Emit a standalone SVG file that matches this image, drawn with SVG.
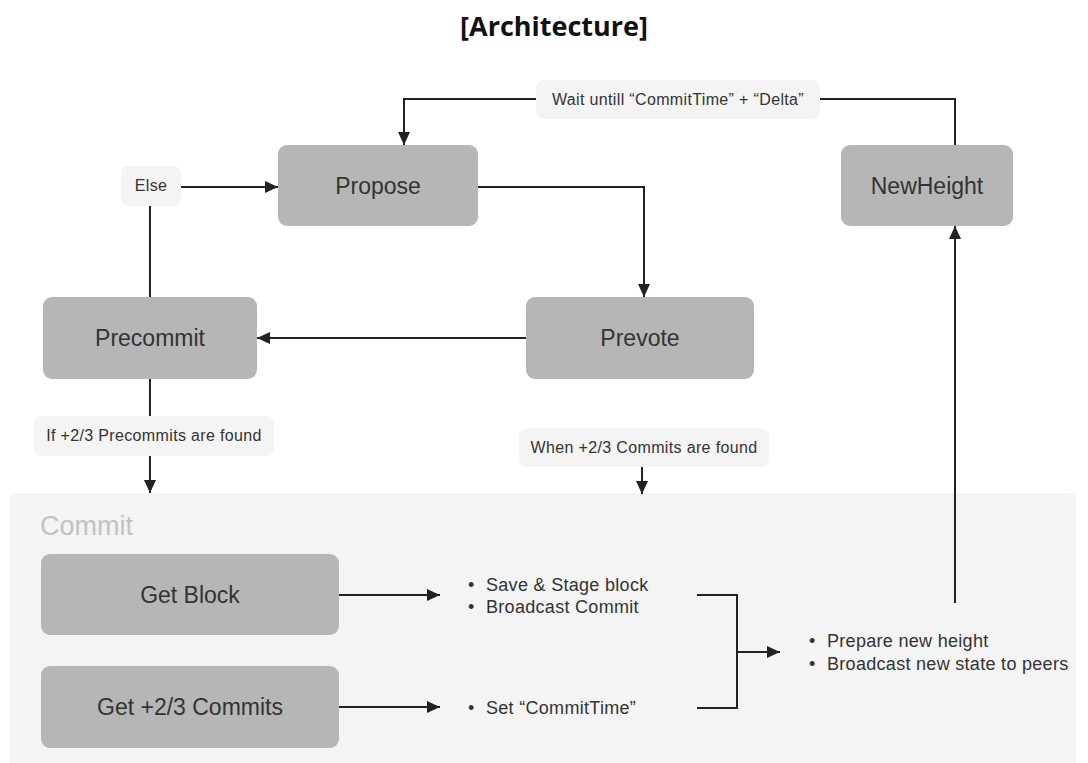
<svg xmlns="http://www.w3.org/2000/svg" width="1088" height="763" viewBox="0 0 1088 763">
  <defs>
    <marker id="arrow" markerUnits="userSpaceOnUse" markerWidth="14" markerHeight="12" refX="13" refY="6" orient="auto">
      <path d="M0,0 L13,6 L0,12 z" fill="#222"/>
    </marker>
    <style>
      .node { fill: #b6b6b6; }
      .node-text { font-family: "Liberation Sans", Arial, sans-serif; font-size: 23px; fill: #333; text-anchor: middle; }
      .label { fill: #f4f4f4; }
      .label-text { font-family: "Liberation Sans", Arial, sans-serif; font-size: 16px; letter-spacing: 0.35px; fill: #333; text-anchor: middle; }
      .bullet-text { font-family: "Liberation Sans", Arial, sans-serif; font-size: 18px; letter-spacing: 0.3px; fill: #333; }
      .conn { fill: none; stroke: #222; stroke-width: 2; }
    </style>
  </defs>

  <rect width="1088" height="763" fill="#fff"/>

  <!-- title -->
  <text x="554" y="36" font-family="'Open Sans', 'DejaVu Sans', sans-serif" font-weight="bold" font-size="27" fill="#111" text-anchor="middle">[Architecture]</text>

  <!-- commit stage container -->
  <g id="commit-stage">
    <rect x="10" y="493" width="1066" height="280" rx="6" fill="#f4f4f4"/>
    <text x="40" y="535" font-family="'Liberation Sans', Arial, sans-serif" font-size="27" fill="#c2c2c2">Commit</text>
  </g>

  <!-- connectors -->
  <g id="connectors">
    <path class="conn" d="M955,145 V99 H404 V145" marker-end="url(#arrow)"/>
    <path class="conn" d="M181,187 H278" marker-end="url(#arrow)"/>
    <path class="conn" d="M150,297 V206"/>
    <path class="conn" d="M478,187 H644 V297" marker-end="url(#arrow)"/>
    <path class="conn" d="M526,338 H257" marker-end="url(#arrow)"/>
    <path class="conn" d="M150,379 V493" marker-end="url(#arrow)"/>
    <path class="conn" d="M642,467 V494" marker-end="url(#arrow)"/>
    <path class="conn" d="M339,595 H440" marker-end="url(#arrow)"/>
    <path class="conn" d="M339,707 H440" marker-end="url(#arrow)"/>
    <path class="conn" d="M697,595 H737 V708 H697"/>
    <path class="conn" d="M737,652 H780" marker-end="url(#arrow)"/>
    <path class="conn" d="M955,603 V226" marker-end="url(#arrow)"/>
  </g>

  <!-- edge labels -->
  <g id="label-wait">
    <rect class="label" x="536" y="80" width="284" height="39" rx="8"/>
    <text class="label-text" x="678" y="105">Wait untill “CommitTime” + “Delta”</text>
  </g>
  <g id="label-else">
    <rect class="label" x="121" y="166" width="60" height="40" rx="8"/>
    <text class="label-text" x="151" y="191">Else</text>
  </g>
  <g id="label-precommits-found">
    <rect class="label" x="34" y="416" width="240" height="40" rx="8"/>
    <text class="label-text" x="154" y="441">If +2/3 Precommits are found</text>
  </g>
  <g id="label-commits-found">
    <rect class="label" x="519" y="428" width="250" height="39" rx="8"/>
    <text class="label-text" x="644" y="453">When +2/3 Commits are found</text>
  </g>

  <!-- state nodes -->
  <g id="propose">
    <rect class="node" x="278" y="145" width="200" height="81" rx="9"/>
    <text class="node-text" x="378" y="194">Propose</text>
  </g>
  <g id="new-height">
    <rect class="node" x="841" y="145" width="172" height="81" rx="9"/>
    <text class="node-text" x="927" y="194">NewHeight</text>
  </g>
  <g id="precommit">
    <rect class="node" x="43" y="297" width="214" height="82" rx="9"/>
    <text class="node-text" x="150" y="346">Precommit</text>
  </g>
  <g id="prevote">
    <rect class="node" x="526" y="297" width="228" height="82" rx="9"/>
    <text class="node-text" x="640" y="346">Prevote</text>
  </g>
  <g id="get-block">
    <rect class="node" x="41" y="554" width="298" height="81" rx="9"/>
    <text class="node-text" x="190" y="603">Get Block</text>
  </g>
  <g id="get-commits">
    <rect class="node" x="41" y="666" width="298" height="82" rx="9"/>
    <text class="node-text" x="190" y="715">Get +2/3 Commits</text>
  </g>

  <!-- action lists -->
  <g id="block-actions">
    <text class="bullet-text" y="591"><tspan x="468">•</tspan><tspan x="486">Save &amp; Stage block</tspan></text>
    <text class="bullet-text" y="613"><tspan x="468">•</tspan><tspan x="486">Broadcast Commit</tspan></text>
  </g>
  <g id="commit-time-action">
    <text class="bullet-text" y="714"><tspan x="468">•</tspan><tspan x="486">Set “CommitTime”</tspan></text>
  </g>
  <g id="height-actions">
    <text class="bullet-text" y="647"><tspan x="809">•</tspan><tspan x="827">Prepare new height</tspan></text>
    <text class="bullet-text" y="670"><tspan x="809">•</tspan><tspan x="827">Broadcast new state to peers</tspan></text>
  </g>
</svg>
